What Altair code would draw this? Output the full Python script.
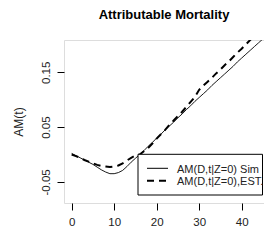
import altair as alt
import pandas as pd

# ---- data ----
t_vals = list(range(0, 46))
am_sim = [0.002, -0.002, -0.006, -0.010, -0.014, -0.018, -0.023, -0.028, -0.032, -0.035,
          -0.035, -0.033, -0.029, -0.022, -0.014, -0.007, 0.000, 0.007, 0.015, 0.022,
          0.030, 0.037, 0.045, 0.052, 0.059, 0.067, 0.074, 0.082, 0.089, 0.097,
          0.104, 0.111, 0.118, 0.126, 0.133, 0.140, 0.147, 0.154, 0.161, 0.169,
          0.176, 0.183, 0.190, 0.197, 0.204, 0.211]
am_est = [0.000, -0.003, -0.006, -0.010, -0.013, -0.016, -0.019, -0.021, -0.022, -0.023,
          -0.022, -0.020, -0.016, -0.011, -0.006, -0.002, 0.000, 0.006, 0.012, 0.020,
          0.029, 0.037, 0.045, 0.054, 0.062, 0.070, 0.078, 0.087, 0.096, 0.105,
          0.118, 0.126, 0.133, 0.140, 0.148, 0.155, 0.163, 0.170, 0.178, 0.186,
          0.193, 0.201, 0.209, 0.216, 0.222, 0.229]
series_names = ["AM(D,t|Z=0) Sim", "AM(D,t|Z=0),EST."]
x_ticks = [0, 10, 20, 30, 40]
y_ticks = [-0.05, 0.0, 0.05, 0.10, 0.15, 0.20]
y_label_values = [-0.05, 0.05, 0.15]
y_label_texts = ["-0.05", "0.05", "0.15"]
title_text = "Attributable Mortality"
y_title = "AM(t)"

FONT = "Liberation Sans"
W, H = 200, 163

df = pd.DataFrame({
    "t": t_vals * 2,
    "am": am_sim + am_est,
    "series": [series_names[0]] * len(t_vals) + [series_names[1]] * len(t_vals),
})

label_expr = ""
for v, s in zip(y_label_values, y_label_texts):
    label_expr += f"abs(datum.value - ({v})) < 1e-9 ? '{s}' : "
label_expr += "''"

x_scale = alt.Scale(domain=[-1.8, 45.26], nice=False, zero=False)
y_scale = alt.Scale(domain=[-0.0885, 0.209], nice=False, zero=False)

x_axis = alt.Axis(values=x_ticks, format="d", grid=False, domain=False, tickSize=7,
                  tickColor="black", labelFont=FONT, labelFontSize=11.5, labelColor="#222",
                  labelPadding=6, title=None)
y_axis = alt.Axis(values=y_ticks, labelExpr=label_expr, grid=False, domain=False, tickSize=7,
                  tickColor="black", labelFont=FONT, labelFontSize=11.5, labelColor="#222",
                  labelAngle=270, labelAlign="center", labelBaseline="bottom", labelPadding=6,
                  title=y_title, titleFont=FONT, titleFontSize=12, titleFontWeight="normal",
                  titleColor="#222", titleAngle=270, titleX=-45.5, titleY=81.5,
                  titleAlign="center", titleBaseline="middle")

base = alt.Chart(df)
sim_line = base.transform_filter(alt.datum.series == series_names[0]).mark_line(
    color="black", strokeWidth=0.9, clip=True
).encode(x=alt.X("t:Q", scale=x_scale, axis=x_axis), y=alt.Y("am:Q", scale=y_scale, axis=y_axis))

est_line = base.transform_filter(alt.datum.series == series_names[1]).mark_line(
    color="black", strokeWidth=2, strokeDash=[7, 5], clip=True
).encode(x=alt.X("t:Q", scale=x_scale), y=alt.Y("am:Q", scale=y_scale))

# legend drawn in pixel space of the plot area
one = alt.Data(values=[{"k": 1}])
leg_box = alt.Chart(one).mark_rect(fill="white", stroke="black", strokeWidth=1).encode(
    x=alt.value(74), x2=alt.value(198.5), y=alt.value(114.3), y2=alt.value(155))
leg_sim = alt.Chart(one).mark_rule(color="black", strokeWidth=1).encode(
    x=alt.value(83), x2=alt.value(104), y=alt.value(128.3))
leg_est = alt.Chart(one).mark_rule(color="black", strokeWidth=2, strokeDash=[7, 5]).encode(
    x=alt.value(83), x2=alt.value(104), y=alt.value(140.7))
leg_t1 = alt.Chart(alt.Data(values=[{"lab": series_names[0]}])).mark_text(
    align="left", baseline="alphabetic", font=FONT, fontSize=11, color="#222").encode(
    text="lab:N", x=alt.value(113), y=alt.value(133.3))
leg_t2 = alt.Chart(alt.Data(values=[{"lab": series_names[1]}])).mark_text(
    align="left", baseline="alphabetic", font=FONT, fontSize=11, color="#222").encode(
    text="lab:N", x=alt.value(113), y=alt.value(144.8))

chart = alt.layer(sim_line, est_line, leg_box, leg_sim, leg_est, leg_t1, leg_t2).properties(
    width=W, height=H,
    title=alt.TitleParams(title_text, font=FONT, fontSize=13, fontWeight="bold", color="black",
                          anchor="middle", frame="group", baseline="alphabetic", offset=8),
    autosize=alt.AutoSizeParams(type="none"),
    padding={"left": 56, "top": 32, "right": 0, "bottom": 40},
).configure_view(stroke="black", strokeWidth=1).configure(background="white")

chart.save("out.html", embed_options={"renderer": "svg", "actions": False})
